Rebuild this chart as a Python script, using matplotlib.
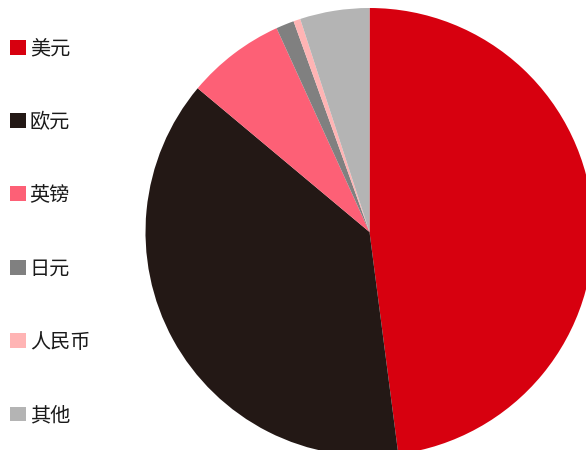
import matplotlib.pyplot as plt
from matplotlib.patches import Patch

plt.rcParams['font.family'] = ['Noto Sans CJK SC', 'DejaVu Sans']

# 币种占比（%）
labels = ['美元', '欧元', '英镑', '日元', '人民币', '其他']
shares = [47.9, 38.1, 7.1, 1.3, 0.5, 5.0]
colors = ['#d7000f', '#231815', '#fd6076', '#808080', '#ffb4b4', '#b4b4b4']

fig = plt.figure(figsize=(5.86, 4.5), dpi=100)
ax = fig.add_axes([0, 0, 1, 1])

ax.pie(shares, colors=colors, startangle=90, counterclock=False,
       center=(369.5, 218), radius=224,
       wedgeprops=dict(linewidth=0))
ax.set_xlim(0, 586)
ax.set_ylim(0, 450)
ax.set_aspect('equal')
ax.axis('off')

handles = [Patch(facecolor=c, edgecolor='none') for c in colors]
leg = ax.legend(handles, labels, loc='upper left', bbox_to_anchor=(0.004, 0.933),
                frameon=False, fontsize=14.5, handlelength=0.76, handleheight=0.76,
                handletextpad=0.2, labelspacing=2.60, borderaxespad=0.0,
                labelcolor='#1a1a1a')

fig.savefig('out.png', dpi=100)
